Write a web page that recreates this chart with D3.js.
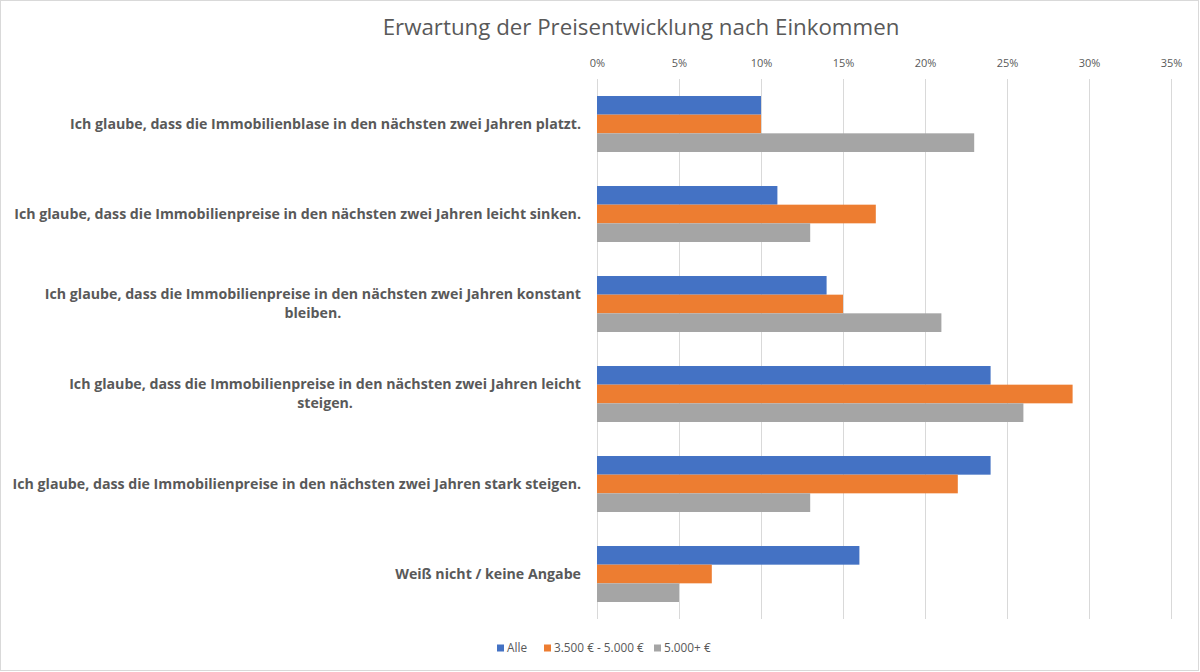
<!DOCTYPE html>
<html><head><meta charset="utf-8">
<script src="https://cdn.jsdelivr.net/npm/d3@7"></script>
<style>
html,body{margin:0;padding:0;background:#fff;}
svg{display:block;font-family:"Open Sans","Noto Sans",sans-serif;}
</style></head>
<body>
<svg id="chart" width="1200" height="672"></svg>
<script>
const title = "Erwartung der Preisentwicklung nach Einkommen";
const categories = [
  "Ich glaube, dass die Immobilienblase in den nächsten zwei Jahren platzt.",
  "Ich glaube, dass die Immobilienpreise in den nächsten zwei Jahren leicht sinken.",
  "Ich glaube, dass die Immobilienpreise in den nächsten zwei Jahren konstant bleiben.",
  "Ich glaube, dass die Immobilienpreise in den nächsten zwei Jahren leicht steigen.",
  "Ich glaube, dass die Immobilienpreise in den nächsten zwei Jahren stark steigen.",
  "Weiß nicht / keine Angabe"
];
const categoryLines = [
  ["Ich glaube, dass die Immobilienblase in den nächsten zwei Jahren platzt."],
  ["Ich glaube, dass die Immobilienpreise in den nächsten zwei Jahren leicht sinken."],
  ["Ich glaube, dass die Immobilienpreise in den nächsten zwei Jahren konstant", "bleiben."],
  ["Ich glaube, dass die Immobilienpreise in den nächsten zwei Jahren leicht", "steigen."],
  ["Ich glaube, dass die Immobilienpreise in den nächsten zwei Jahren stark steigen."],
  ["Weiß nicht / keine Angabe"]
];
const seriesNames = ["Alle", "3.500 € - 5.000 €", "5.000+ €"];
const seriesColors = ["#4472C4", "#ED7D31", "#A5A5A5"];
const valuesAlle   = [10, 11, 14, 24, 24, 16];
const valuesMid    = [10, 17, 15, 29, 22, 7];
const valuesHigh   = [23, 13, 21, 26, 13, 5];
const seriesValues = [valuesAlle, valuesMid, valuesHigh];
const tickValues = [0, 5, 10, 15, 20, 25, 30, 35];

const svg = d3.select("#chart");
const textColor = "#595959";

// outer border
svg.append("rect").attr("x", 0.5).attr("y", 0.5).attr("width", 1198).attr("height", 670)
  .attr("fill", "#fff").attr("stroke", "#d9d9d9").attr("stroke-width", 1);

const m = {left: 597, right: 1171, top: 79, bottom: 619};
const x = d3.scaleLinear().domain([0, 35]).range([m.left, m.right]);
const y0 = d3.scaleBand().domain(categories).range([m.top, m.bottom]).paddingInner(0.378).paddingOuter(0.189);
const y1 = d3.scaleBand().domain(seriesNames).range([0, y0.bandwidth()]);

// gridlines
svg.append("g").selectAll("line").data(tickValues).join("line")
  .attr("x1", d => x(d)).attr("x2", d => x(d))
  .attr("y1", m.top).attr("y2", m.bottom)
  .attr("stroke", "#d9d9d9").attr("stroke-width", 1)
  .attr("shape-rendering", "crispEdges");

// top axis
const axis = d3.axisTop(x).tickValues(tickValues).tickFormat(d => d + "%").tickSize(0).tickPadding(0);
const ag = svg.append("g").attr("transform", `translate(0,${m.top - 12})`).call(axis);
ag.select(".domain").remove();
ag.selectAll("text").attr("fill", textColor).style("font-size", "11px")
  .style("font-family", '"Open Sans","Noto Sans",sans-serif');

// bars
const rows = categories.map((c, i) => ({c, vals: seriesNames.map((s, j) => ({s, j, v: seriesValues[j][i]}))}));
const g = svg.append("g");
const grp = g.selectAll("g").data(rows).join("g").attr("transform", d => `translate(0,${y0(d.c)})`);
grp.selectAll("rect").data(d => d.vals).join("rect")
  .attr("x", x(0)).attr("y", d => y1(d.s))
  .attr("width", d => x(d.v) - x(0)).attr("height", y1.bandwidth())
  .attr("fill", d => seriesColors[d.j]);

// category labels
const labG = svg.append("g");
const labelRight = 581;
const probe = labG.append("text").attr("font-weight", "bold").style("font-size", "14px").text(categoryLines[1][0]);
const w14 = probe.node().getComputedTextLength();
probe.remove();
const labelSize = 14 * 567 / w14;
const lineH = 19;
categoryLines.forEach((lines, i) => {
  const cy = y0(categories[i]) + y0.bandwidth() / 2;
  const t = labG.append("text").attr("font-weight", "bold").attr("fill", textColor)
    .style("font-size", labelSize + "px");
  if (lines.length === 1) {
    t.attr("x", labelRight).attr("y", cy).attr("dy", "0.35em").attr("text-anchor", "end").text(lines[0]);
  } else {
    const tmp = labG.append("text").attr("font-weight", "bold").style("font-size", labelSize + "px").text(lines[0]);
    const w = tmp.node().getComputedTextLength();
    tmp.remove();
    const cx = labelRight - w / 2;
    t.attr("text-anchor", "middle");
    lines.forEach((ln, k) => {
      t.append("tspan").attr("x", cx).attr("y", cy + (k - (lines.length - 1) / 2) * lineH)
        .attr("dy", "0.35em").text(ln);
    });
  }
});

// title
const tp = svg.append("text").style("font-size", "22px").text(title);
const tw = tp.node().getComputedTextLength();
tp.remove();
const titleSize = 22 * 517 / tw;
svg.append("text").attr("x", 641).attr("y", 27).attr("dy", "0.35em").attr("text-anchor", "middle")
  .attr("fill", textColor).style("font-size", titleSize + "px").text(title);

// legend
const legendX = [497, 544, 654];
const lg = svg.append("g").attr("transform", "translate(0,648)");
seriesNames.forEach((s, j) => {
  lg.append("rect").attr("x", legendX[j]).attr("y", -3.5).attr("width", 7).attr("height", 7).attr("fill", seriesColors[j]);
  lg.append("text").attr("x", legendX[j] + 10).attr("y", 0).attr("dy", "0.35em")
    .attr("fill", textColor).style("font-size", "11.8px").text(s);
});
</script>
</body></html>
